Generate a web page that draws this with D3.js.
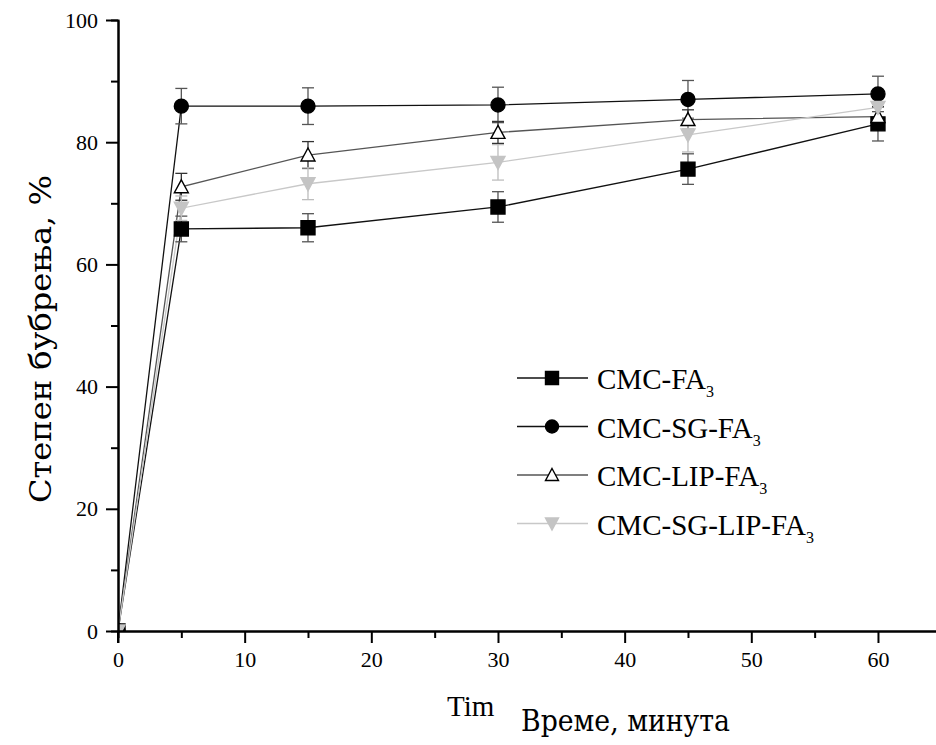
<!DOCTYPE html>
<html>
<head>
<meta charset="utf-8">
<script src="https://cdn.jsdelivr.net/npm/d3@7/dist/d3.min.js"></script>
<style>
  html, body { margin: 0; padding: 0; background: #ffffff; }
  svg { display: block; }
</style>
</head>
<body>
<svg id="chart" width="936" height="745"></svg>
<script>
// ---- data ----
const times = [0, 5, 15, 30, 45, 60];
const seriesNames = ["CMC-FA", "CMC-SG-FA", "CMC-LIP-FA", "CMC-SG-LIP-FA"];
const cmcFA        = [0, 65.8, 66.0, 69.4, 75.6, 83.0];
const cmcFAErr     = [0, 2.1, 2.3, 2.5, 2.5, 2.8];
const cmcSgFA      = [0, 85.9, 85.9, 86.1, 87.0, 87.9];
const cmcSgFAErr   = [0, 2.9, 3.0, 2.9, 3.1, 2.9];
const cmcLipFA     = [0, 72.7, 77.9, 81.6, 83.7, 84.2];
const cmcLipFAErr  = [0, 2.2, 2.2, 1.8, 1.6, 1.6];
const cmcSgLipFA   = [0, 69.2, 73.2, 76.7, 81.2, 85.7];
const cmcSgLipFAErr= [0, 2.0, 2.6, 2.9, 2.8, 2.0];
const xTicks = [0, 10, 20, 30, 40, 50, 60];
const yTicks = [0, 20, 40, 60, 80, 100];

const series = [
  {name: seriesNames[0], values: cmcFA,      err: cmcFAErr,      shape: "square",  fill: "#000", stroke: "#000", line: "#111", errColor: "#555"},
  {name: seriesNames[1], values: cmcSgFA,    err: cmcSgFAErr,    shape: "circle",  fill: "#000", stroke: "#000", line: "#111", errColor: "#555"},
  {name: seriesNames[2], values: cmcLipFA,   err: cmcLipFAErr,   shape: "triangle",fill: "#fff", stroke: "#000", line: "#555", errColor: "#333"},
  {name: seriesNames[3], values: cmcSgLipFA, err: cmcSgLipFAErr, shape: "invtri",  fill: "#c4c4c4", stroke: "#c4c4c4", line: "#c8c8c8", errColor: "#bdbdbd"}
];

const svg = d3.select("#chart");
const x = d3.scaleLinear().domain([0, 65]).range([118, 941.3]);
const y = d3.scaleLinear().domain([0, 100]).range([631, 20]);

const tickFont = "Liberation Serif, Times New Roman, serif";
const labelFont = "DejaVu Serif, serif";

// clip for plot area
svg.append("defs").append("clipPath").attr("id", "plotclip")
  .append("rect").attr("x", 118).attr("y", 0).attr("width", 830).attr("height", 631);

const plot = svg.append("g").attr("clip-path", "url(#plotclip)");

function symbolPath(shape, s) {
  const h = s / 2;
  if (shape === "square") return `M${-h},${-h}H${h}V${h}H${-h}Z`;
  if (shape === "circle") return d3.symbol(d3.symbolCircle, Math.PI * h * h)();
  if (shape === "triangle") return `M0,${-h}L${h},${h * 0.85}L${-h},${h * 0.85}Z`;
  if (shape === "invtri") return `M${-h},${-h * 0.85}L${h},${-h * 0.85}L0,${h}Z`;
}

// lines
series.forEach(s => {
  const pts = times.map((t, i) => [t, s.values[i]]);
  plot.append("path")
    .attr("d", d3.line().x(d => x(d[0])).y(d => y(d[1]))(pts))
    .attr("fill", "none").attr("stroke", s.line).attr("stroke-width", 1.3);
});

// error bars
series.forEach(s => {
  times.forEach((t, i) => {
    if (!s.err[i]) return;
    const cx = x(t), y1 = y(s.values[i] + s.err[i]), y2 = y(s.values[i] - s.err[i]);
    const g = plot.append("g").attr("stroke", s.errColor).attr("stroke-width", 1.3);
    g.append("line").attr("x1", cx).attr("x2", cx).attr("y1", y1).attr("y2", y2);
    g.append("line").attr("x1", cx - 6).attr("x2", cx + 6).attr("y1", y1).attr("y2", y1);
    g.append("line").attr("x1", cx - 6).attr("x2", cx + 6).attr("y1", y2).attr("y2", y2);
  });
});

// markers
series.forEach(s => {
  times.forEach((t, i) => {
    plot.append("path")
      .attr("d", symbolPath(s.shape, 14))
      .attr("transform", `translate(${x(t)},${y(s.values[i])})`)
      .attr("fill", s.fill).attr("stroke", s.stroke).attr("stroke-width", 1.4);
  });
});

// axes
const yAxis = d3.axisLeft(y).tickValues(yTicks).tickSize(12).tickSizeOuter(0).tickPadding(8);
const yMinor = d3.axisLeft(y).tickValues([10, 30, 50, 70, 90]).tickSize(7).tickFormat("");
const xAxis = d3.axisBottom(x).tickValues(xTicks).tickSize(12).tickSizeOuter(0).tickPadding(8);
const xMinor = d3.axisBottom(x).tickValues([5, 15, 25, 35, 45, 55]).tickSize(7).tickFormat("");

function styleAxis(g) {
  g.attr("font-family", null).attr("font-size", null);
  g.selectAll(".domain").attr("stroke", "#000").attr("stroke-width", 2);
  g.selectAll(".tick line").attr("stroke", "#000").attr("stroke-width", 2);
  g.selectAll("text").style("font-family", tickFont).style("font-size", "22px").attr("fill", "#000");
}

svg.append("g").attr("transform", "translate(118,0)").call(yMinor).call(styleAxis);
svg.append("g").attr("transform", "translate(118,0)").call(yAxis).call(styleAxis);
svg.append("g").attr("transform", "translate(0,631)").call(xMinor).call(styleAxis);
svg.append("g").attr("transform", "translate(0,631)").call(xAxis).call(styleAxis);
// extend y-axis slightly below x-axis
svg.append("line").attr("x1", 118).attr("x2", 118).attr("y1", 631).attr("y2", 643)
  .attr("stroke", "#000").attr("stroke-width", 2);

// legend
const legend = svg.append("g");
series.forEach((s, i) => {
  const ly = 378 + i * 48.5;
  legend.append("line").attr("x1", 517).attr("x2", 588).attr("y1", ly).attr("y2", ly)
    .attr("stroke", s.line).attr("stroke-width", 1.3);
  legend.append("path").attr("d", symbolPath(s.shape, 13))
    .attr("transform", `translate(552,${ly})`)
    .attr("fill", s.fill).attr("stroke", s.stroke).attr("stroke-width", 1.4);
  const t = legend.append("text").attr("x", 597).attr("y", ly + 11)
    .style("font-family", tickFont).style("font-size", "29px").attr("fill", "#000");
  t.append("tspan").text(s.name);
  t.append("tspan").attr("dy", 8).style("font-size", "16px").text("3");
});

// y-axis title
svg.append("text")
  .attr("transform", "translate(51,339) rotate(-90)")
  .attr("text-anchor", "middle")
  .attr("textLength", 328).attr("lengthAdjust", "spacingAndGlyphs")
  .style("font-family", labelFont)
  .style("font-size", "29px").attr("fill", "#000")
  .text("Степен бубрења, %");

// x-axis title (original English label partly covered by translated patch)
svg.append("text").attr("x", 447).attr("y", 716)
  .style("font-family", tickFont).style("font-size", "29px").attr("fill", "#000")
  .text("Tim");
svg.append("rect").attr("x", 499).attr("y", 686).attr("width", 256).attr("height", 59).attr("fill", "#fff");
svg.append("text").attr("x", 521).attr("y", 731)
  .attr("textLength", 209).attr("lengthAdjust", "spacingAndGlyphs")
  .style("font-family", labelFont)
  .style("font-size", "29px").attr("fill", "#000")
  .text("Време, минута");
</script>
</body>
</html>
